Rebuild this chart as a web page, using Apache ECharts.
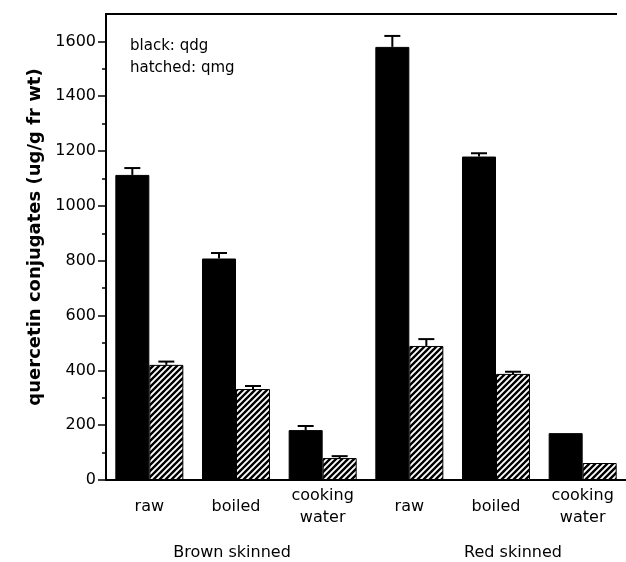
<!DOCTYPE html>
<html><head><meta charset="utf-8">
<script src="https://cdn.jsdelivr.net/npm/echarts@6/dist/echarts.min.js"></script>
<style>html,body{margin:0;padding:0;background:#fff}#c{width:626px;height:562px}</style>
</head><body><div id="c"></div>
<script>
const categories = ['raw', 'boiled', 'cooking\nwater', 'raw', 'boiled', 'cooking\nwater'];
const groups = ['Brown skinned', 'Red skinned'];
const qdg = [1113, 808, 182, 1580, 1180, 171];
const qdgErr = [25, 20, 15, 40, 12, 0];
const qmg = [420, 332, 80, 489, 387, 62];
const qmgErr = [12, 11, 7, 25, 8, 0];
const yTicks = [0, 200, 400, 600, 800, 1000, 1200, 1400, 1600];
const yMinorTicks = [100, 300, 500, 700, 900, 1100, 1300, 1500];
const legendLabels = ['black: qdg', 'hatched: qmg'];
const yTitle = 'quercetin conjugates (ug/g fr wt)';

const FONT = 'DejaVu Sans';
const INK = '#000';
const BAR_W = 34;

function hatchTile() {
  const s = 6;
  const c = document.createElement('canvas');
  c.width = s; c.height = s;
  const g = c.getContext('2d');
  g.fillStyle = '#000'; g.fillRect(0, 0, s, s);
  g.strokeStyle = '#fff'; g.lineWidth = 1.9;
  g.beginPath();
  g.moveTo(-1, s + 1); g.lineTo(s + 1, -1);
  g.moveTo(-1, 1); g.lineTo(1, -1);
  g.moveTo(s - 1, s + 1); g.lineTo(s + 1, s - 1);
  g.stroke();
  return c;
}

function errSeries(vals, errs, offset) {
  return {
    type: 'custom',
    z: 5,
    data: vals.map((v, i) => [i, v, errs[i]]),
    renderItem(params, api) {
      const i = api.value(0), v = api.value(1), e = api.value(2);
      if (!e) return null;
      const b = api.coord([i, v]);
      const t = api.coord([i, v + e]);
      const x = b[0] + offset;
      const st = { stroke: '#000', lineWidth: 2 };
      return {
        type: 'group', children: [
          { type: 'line', shape: { x1: x, y1: b[1], x2: x, y2: t[1] }, style: st },
          { type: 'line', shape: { x1: x - 8, y1: t[1], x2: x + 8, y2: t[1] }, style: st }
        ]
      };
    }
  };
}

const chart = echarts.init(document.getElementById('c'), null, { renderer: 'canvas' });
chart.setOption({
  animation: false,
  backgroundColor: '#fff',
  grid: { left: 106, top: 14, width: 528, height: 466 },
  xAxis: {
    type: 'category',
    data: categories,
    axisLine: { lineStyle: { color: '#000', width: 2 } },
    axisTick: { length: 5, lineStyle: { color: '#000', width: 1.5 } },
    axisLabel: { color: INK, fontFamily: FONT, fontSize: 16, margin: 27, verticalAlign: 'middle', lineHeight: 22, interval: 0 },
    splitLine: { show: false }
  },
  yAxis: [{
    type: 'value', min: 0, max: 1700, interval: 100,
    name: yTitle, nameLocation: 'middle', nameGap: 62, nameRotate: 90,
    nameTextStyle: { color: INK, fontFamily: FONT, fontSize: 18, fontWeight: 'bold', padding: [0, 0, 0, 20] },
    axisLine: { show: true, lineStyle: { color: '#000', width: 2 } },
    axisTick: { show: true, length: 8, customValues: yTicks, lineStyle: { color: '#000', width: 1.5 } },
    axisLabel: { color: INK, fontFamily: FONT, fontSize: 16, margin: 10, customValues: yTicks, formatter: v => String(v) },
    splitLine: { show: false }
  }, {
    type: 'value', min: 0, max: 1700, interval: 100, position: 'left', offset: 0,
    axisLine: { show: false },
    axisTick: { show: true, length: 4, customValues: yMinorTicks, lineStyle: { color: '#000', width: 1.5 } },
    axisLabel: { show: false },
    splitLine: { show: false }
  }],
  series: [
    { name: 'qdg', type: 'bar', data: qdg, barWidth: BAR_W, barGap: '0%',
      itemStyle: { color: '#000', borderColor: '#000', borderWidth: 1 } },
    { name: 'qmg', type: 'bar', data: qmg, barWidth: BAR_W, barGap: '0%',
      itemStyle: { color: { image: hatchTile(), repeat: 'repeat' }, borderColor: '#000', borderWidth: 1 } },
    errSeries(qdg, qdgErr, -BAR_W / 2),
    errSeries(qmg, qmgErr, BAR_W / 2)
  ],
  graphic: [
    { type: 'line', shape: { x1: 105, y1: 14, x2: 617, y2: 14 }, style: { stroke: '#000', lineWidth: 2 } },
    { type: 'text', left: 130, top: 39, style: { text: legendLabels[0], fill: INK, font: '15px "' + FONT + '"' } },
    { type: 'text', left: 130, top: 61, style: { text: legendLabels[1], fill: INK, font: '15px "' + FONT + '"' } },
    { type: 'text', x: 232, y: 553, style: { text: groups[0], fill: INK, font: '16px "' + FONT + '"', align: 'center', verticalAlign: 'middle' } },
    { type: 'text', x: 513, y: 553, style: { text: groups[1], fill: INK, font: '16px "' + FONT + '"', align: 'center', verticalAlign: 'middle' } }
  ]
});
</script>
</body></html>
